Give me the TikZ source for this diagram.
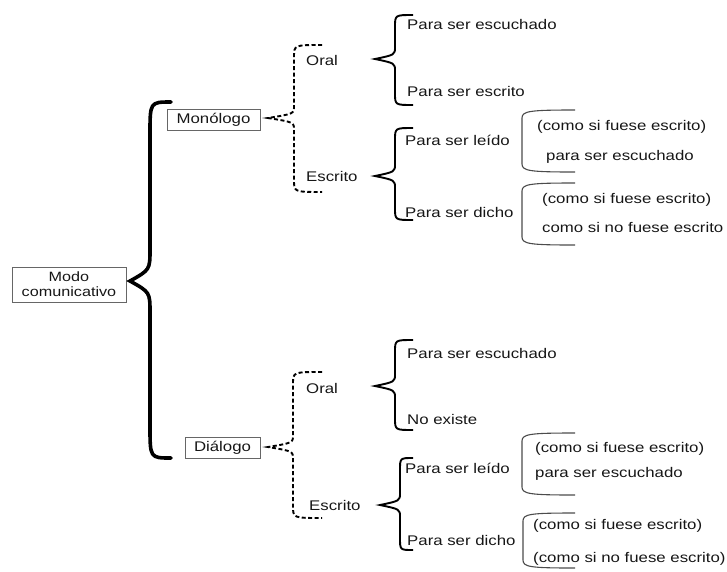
\documentclass[tikz,border=0pt]{standalone}
\usepackage{fontspec}
\setmainfont[FakeStretch=1.2]{Liberation Sans}
\newcommand\drawbrace[8]{% 1 style, 2 tip x, 3 tip y, 4 vertical x, 5 top, 6 bottom, 7 end x, 8 radius
  \draw[#1] (#7,#5) .. controls (#4,#5) .. (#4,{#5+#8}) -- (#4,{#3-#8})
    .. controls (#4,{#3-0.35*#8}) .. (#2,#3)
    .. controls (#4,{#3+0.35*#8}) .. (#4,{#3+#8}) -- (#4,{#6-#8})
    .. controls (#4,#6) .. (#7,#6);}
\newcommand\drawbracket[4]{% 1 x, 2 top, 3 bottom, 4 right x
  \draw[brk] (#4,#2) .. controls (530,#2) and (#1,{#2+1}) .. (#1,{#2+8}) -- (#1,{#3-8})
    .. controls (#1,{#3-1}) and (530,#3) .. (#4,#3);}
\definecolor{ink}{HTML}{161616}
\tikzset{
  txt/.style={anchor=west,inner sep=0pt,text=ink,font=\fontsize{14}{16}\selectfont},
  boxn/.style={draw=black!60,line width=0.9pt,inner xsep=9pt,inner ysep=3pt,minimum height=21pt,text=ink,font=\fontsize{14}{16}\selectfont},
  bigbrace/.style={line width=3.6pt,black,line cap=round},
  dbrace/.style={line width=1.9pt,black,dash pattern=on 4pt off 2.5pt},
  mbrace/.style={line width=1.9pt,black},
  brk/.style={line width=1.1pt,black!70}
}
\begin{document}
\begin{tikzpicture}[x=1pt,y=-1pt]
\useasboundingbox (0,0) rectangle (727,571);
% boxes
\node[boxn,minimum width=114pt,minimum height=35pt,inner xsep=2pt,inner ysep=1pt,align=center,font=\fontsize{13.5}{15}\selectfont] (modo) at (69,284.5) {Modo\\comunicativo};
\node[boxn,minimum width=93pt] (mono) at (213.5,119.5) {Monólogo};
\node[boxn,minimum width=75pt] (dia) at (222.5,447.5) {Diálogo};
% big brace
\drawbrace{bigbrace}{130}{281}{150}{102}{458}{171}{32}
% dashed braces
\drawbrace{dbrace}{268}{118}{294}{45}{192}{322}{12}
\drawbrace{dbrace}{268}{447}{293}{372}{518}{322}{12}
% upper branch
\node[txt] (oral1) at (306,60) {Oral};
\node[txt] (escr1) at (306,176) {Escrito};
\drawbrace{mbrace}{375}{59}{395}{15}{105}{413}{12}
\drawbrace{mbrace}{375}{176}{395}{128}{220}{413}{12}
\node[txt] (pse1) at (407,24) {Para ser escuchado};
\node[txt] (pses1) at (407,91) {Para ser escrito};
\node[txt] (psl1) at (405,140) {Para ser leído};
\node[txt] (psd1) at (405,212) {Para ser dicho};
\drawbracket{522}{110}{172}{575}
\drawbracket{522}{183}{245}{575}
\node[txt] (c1) at (537,127) {(como si fuese escrito)};
\node[txt] (c2) at (546,157) {para ser escuchado};
\node[txt] (c3) at (542,200) {(como si fuese escrito)};
\node[txt] (c4) at (542,227) {como si no fuese escrito};
% lower branch
\node[txt] (oral2) at (306,388) {Oral};
\node[txt] (escr2) at (309,505) {Escrito};
\drawbrace{mbrace}{375}{386}{395}{340}{430}{413}{12}
\drawbrace{mbrace}{380}{505}{400}{458}{550}{413}{12}
\node[txt] (pse2) at (407,353) {Para ser escuchado};
\node[txt] (noex) at (407,419) {No existe};
\node[txt] (psl2) at (405,468) {Para ser leído};
\node[txt] (psd2) at (407,540) {Para ser dicho};
\drawbracket{522}{433}{495}{575}
\drawbracket{523}{513}{568}{575}
\node[txt] (c5) at (535,449) {(como si fuese escrito)};
\node[txt] (c6) at (535,474) {para ser escuchado};
\node[txt] (c7) at (533,526) {(como si fuese escrito)};
\node[txt] (c8) at (533,559) {(como si no fuese escrito)};
\end{tikzpicture}
\end{document}
